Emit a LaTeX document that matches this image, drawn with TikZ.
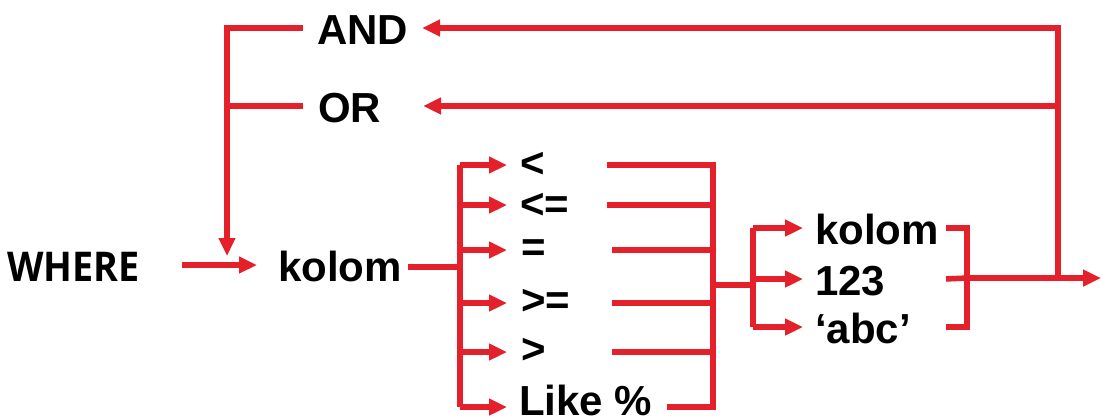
\documentclass[tikz,border=0pt]{standalone}
\usepackage{fontspec}
\setmainfont{Liberation Sans}
\newfontfamily\wherefont{Open Sans}
\usetikzlibrary{arrows.meta}
\definecolor{lred}{RGB}{228,32,42}
\tikzset{
  ln/.style={draw=lred, line width=5.5pt, line join=miter, line cap=butt},
  arr/.style={ln, -{Triangle[length=18pt,width=16pt]}},
  lbl/.style={inner sep=0pt, outer sep=0pt, font=\fontsize{42}{46}\selectfont\bfseries, text=black},
}
\begin{document}
\begin{tikzpicture}[x=1pt,y=-1pt]
\useasboundingbox (0,0) rectangle (1102,418);
% labels
\node[inner sep=0pt, anchor=base west, font=\wherefont\fontsize{41}{44}\selectfont\bfseries] (where) at (7,281) {\scalebox{0.92}[1]{WHERE}};
\node[lbl, anchor=base west] (k1) at (278,281) {kolom};
\node[lbl, anchor=base west] (and) at (317,44) {AND};
\node[lbl, anchor=base west] (or) at (318,122) {OR};
\node[lbl, anchor=west] (op1) at (520,165) {<};
\node[lbl, anchor=west] (op2) at (520,206) {<=};
\node[lbl, anchor=west] (op3) at (521,251) {=};
\node[lbl, anchor=west] (op4) at (521,302) {>=};
\node[lbl, anchor=west] (op5) at (521,351) {>};
\node[lbl, anchor=base west] (op6) at (519,415) {Like \%};
\node[lbl, anchor=base west] (k2) at (815,244) {kolom};
\node[lbl, anchor=base west] (n123) at (815,295) {123};
\node[lbl, anchor=base west] (abc) at (815,343) {‘abc’};
% junction coordinates
\coordinate (wA) at (182,265);
\coordinate (wB) at (257,265);
\coordinate (lTop) at (227,28);
\coordinate (lOr) at (227,106);
\coordinate (lTip) at (227,256);
\coordinate (andS) at (303,28);
\coordinate (orS) at (303,106);
\coordinate (rTop) at (1058,28);
\coordinate (rOr) at (1058,106);
\coordinate (rJoin) at (1058,278);
\coordinate (andTip) at (422,28);
\coordinate (orTip) at (423,106);
\coordinate (k1o) at (408,267);
\coordinate (f1) at (460,267);
\coordinate (f1a) at (460,165);
\coordinate (f1b) at (460,205);
\coordinate (f1c) at (460,250);
\coordinate (f1d) at (460,303);
\coordinate (f1e) at (460,352);
\coordinate (f1f) at (460,407);
\coordinate (s1) at (607,165);
\coordinate (s2) at (607,205);
\coordinate (s3) at (612,250);
\coordinate (s4) at (612,303);
\coordinate (s5) at (612,352);
\coordinate (s6) at (667,407);
\coordinate (m1a) at (713,165);
\coordinate (m1b) at (713,205);
\coordinate (m1c) at (713,250);
\coordinate (m1d) at (713,303);
\coordinate (m1e) at (713,352);
\coordinate (m1f) at (713,407);
\coordinate (m1o) at (713,285);
\coordinate (f2) at (753,285);
\coordinate (f2a) at (753,228);
\coordinate (f2b) at (753,279);
\coordinate (f2c) at (753,327);
\coordinate (b1) at (946,228);
\coordinate (b2) at (946,279);
\coordinate (b3) at (946,327);
\coordinate (ba) at (967,228);
\coordinate (bb) at (967,278);
\coordinate (bc) at (967,327);
\coordinate (out) at (1101,278);
% WHERE -> kolom
\draw[arr] (wA) -- (wB);
% loop back
\draw[ln] (bb) -- (rJoin);
\draw[arr] (rJoin) -- (rTop) -- (andTip);
\draw[arr] (rOr) -- (orTip);
\draw[arr] (andS) -- (lTop) -- (lTip);
\draw[ln] (orS) -- (lOr);
% first fork
\draw[ln] (k1o) -- (f1);
\draw[ln] (f1a) -- (f1f);
\foreach \c/\y in {f1a/165,f1b/205,f1c/250,f1d/303,f1e/352,f1f/407}
  \draw[arr] (\c) -- (507,\y);
% merge
\draw[ln] (s1) -- (m1a) -- (m1f) -- (s6);
\draw[ln] (s2) -- (m1b);
\draw[ln] (s3) -- (m1c);
\draw[ln] (s4) -- (m1d);
\draw[ln] (s5) -- (m1e);
\draw[ln] (m1o) -- (f2);
% second fork
\draw[ln] (f2a) -- (f2c);
\foreach \c/\y in {f2a/228,f2b/279,f2c/327}
  \draw[arr] (\c) -- (803,\y);
% bracket
\draw[ln] (b1) -- (ba) -- (bc) -- (b3);
\draw[ln] (b2) -- (bb);
\draw[arr] (bb) -- (out);
\end{tikzpicture}
\end{document}
